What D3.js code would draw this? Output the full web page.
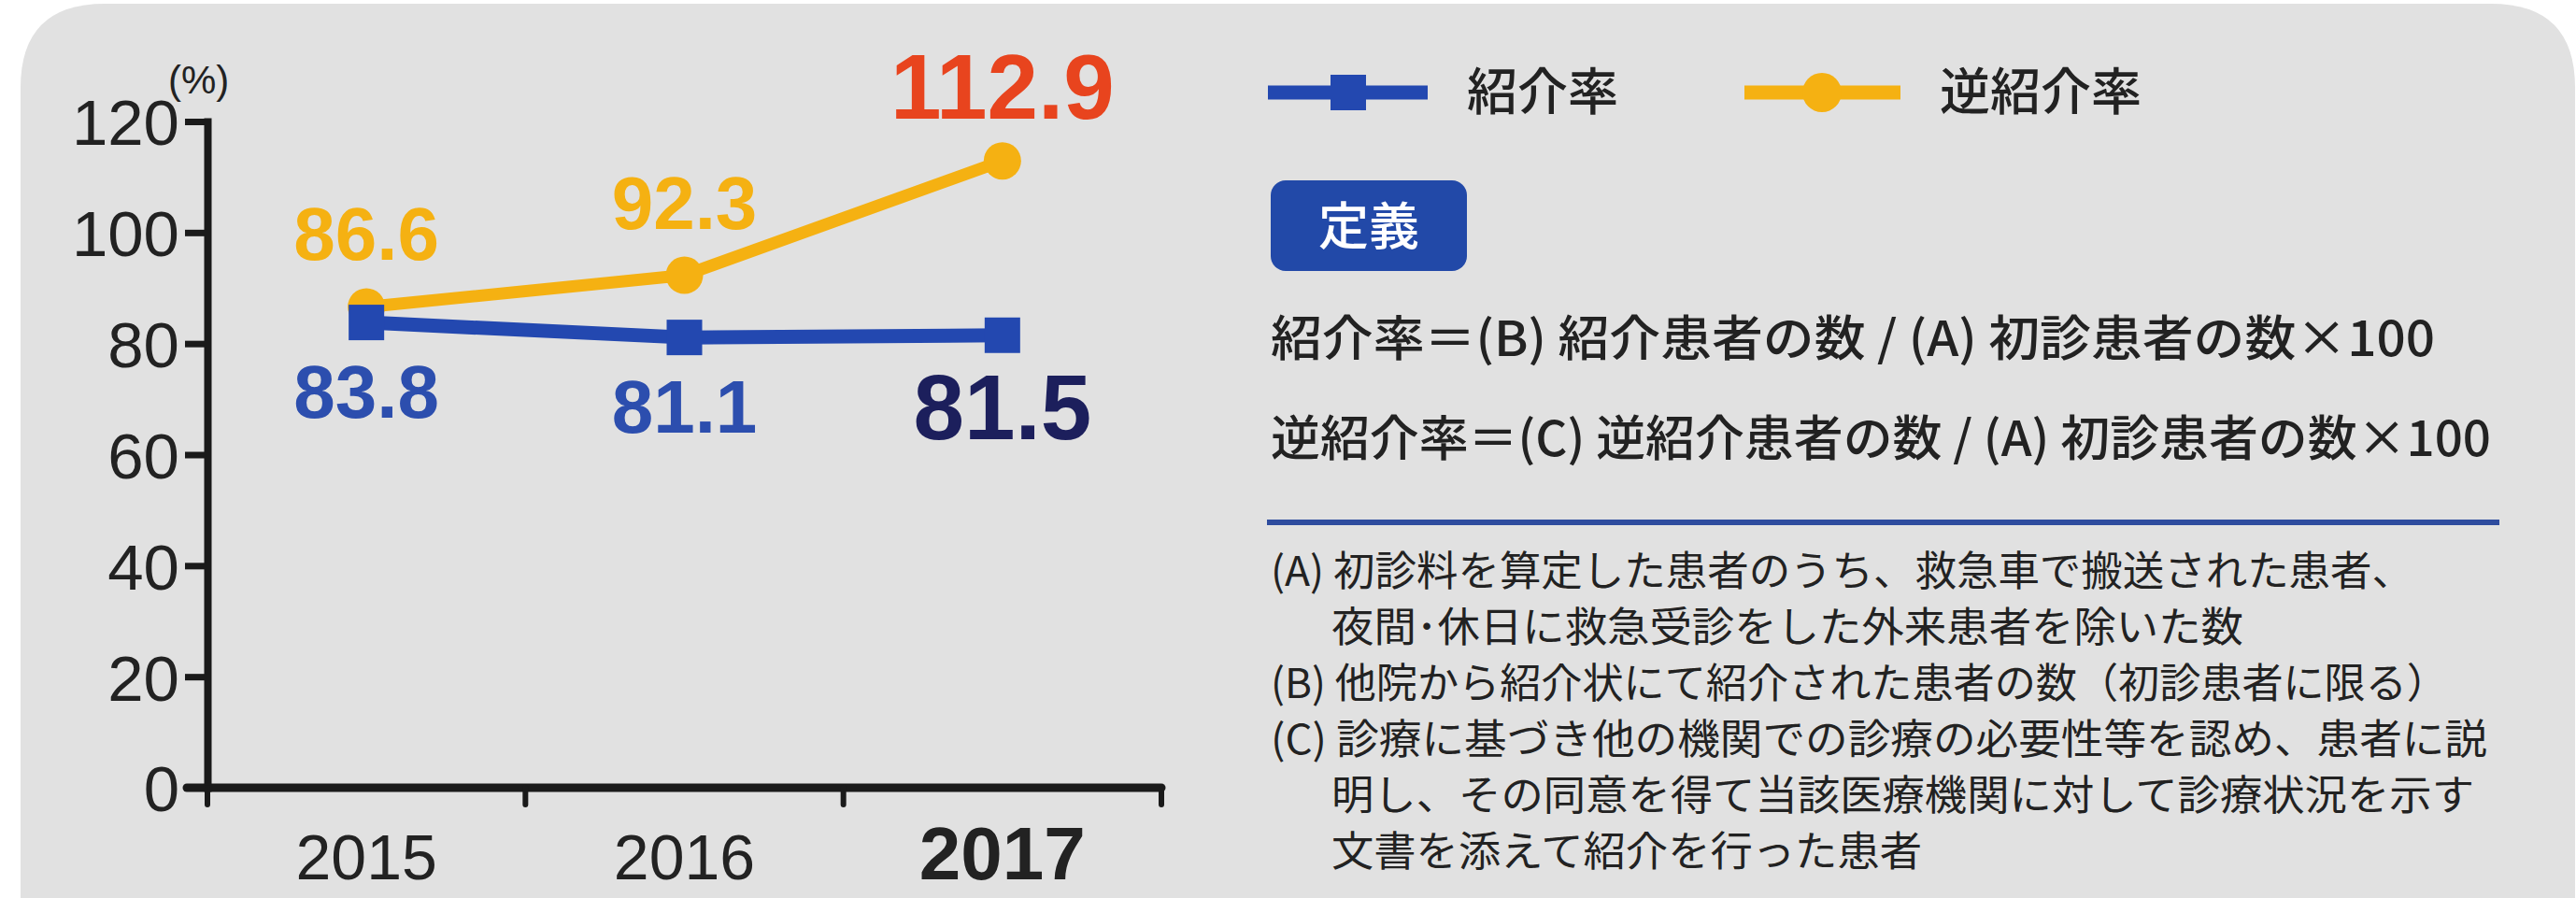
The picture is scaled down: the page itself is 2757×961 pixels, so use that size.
<!DOCTYPE html>
<html><head><meta charset="utf-8">
<script src="https://cdn.jsdelivr.net/npm/d3@7/dist/d3.min.js"></script>
<style>
html,body{margin:0;padding:0;background:#fff;}
svg{display:block;}
</style></head>
<body>
<svg id="chart" width="2757" height="961"></svg>
<script>
// ---- data ----
const years = ["2015", "2016", "2017"];
const referralRate = [83.8, 81.1, 81.5];      // 紹介率
const reverseReferralRate = [86.6, 92.3, 112.9]; // 逆紹介率
const yTicks = [0, 20, 40, 60, 80, 100, 120];
const seriesNames = ["紹介率", "逆紹介率"];
const unitLabel = "(%)";
const badgeLabel = "定義";
const formulaLines = [
  "紹介率＝(B) 紹介患者の数 / (A) 初診患者の数×100",
  "逆紹介率＝(C) 逆紹介患者の数 / (A) 初診患者の数×100"
];
const noteLines = [
  "(A) 初診料を算定した患者のうち、救急車で搬送された患者、",
  "夜間･休日に救急受診をした外来患者を除いた数",
  "(B) 他院から紹介状にて紹介された患者の数（初診患者に限る）",
  "(C) 診療に基づき他の機関での診療の必要性等を認め、患者に説",
  "明し、その同意を得て当該医療機関に対して診療状況を示す",
  "文書を添えて紹介を行った患者"
];

// ---- styles ----
const C = {
  panel: "#e1e1e1", axis: "#1a1a1a", text: "#222",
  blue: "#2348b0", blueLabel: "#2c4eae", navy: "#1c1f5c",
  orange: "#f5b112", red: "#e8441e", badge: "#2249a8", rule: "#2e4c9e"
};
const latin = "'Liberation Sans', Arial, Helvetica, sans-serif";
const cjk = "'Noto Sans CJK JP', 'Noto Sans CJK SC', sans-serif";

const svg = d3.select("#chart");

// panel with rounded top corners
const px0 = 22, py0 = 4, px1 = 2756, py1 = 1100, r = 90;
svg.append("path")
  .attr("d", `M${px0},${py1} L${px0},${py0 + r} Q${px0},${py0} ${px0 + r},${py0} L${px1 - r},${py0} Q${px1},${py0} ${px1},${py0 + r} L${px1},${py1} Z`)
  .attr("fill", C.panel);

// scales
const x = d3.scaleBand().domain(years).range([222, 1243]).padding(0);
const y = d3.scaleLinear().domain([0, 120]).range([843, 130]);
const cx = d => x(d) + x.bandwidth() / 2;

// y axis
const yAxis = svg.append("g").attr("transform", "translate(222,0)")
  .call(d3.axisLeft(y).tickValues(yTicks).tickSize(24).tickSizeOuter(0).tickPadding(6));
yAxis.select(".domain").attr("stroke", C.axis).attr("stroke-width", 8).attr("stroke-linecap", "square");
yAxis.selectAll(".tick line").attr("stroke", C.axis).attr("stroke-width", 7);
yAxis.selectAll(".tick text").attr("font-family", latin).attr("font-size", 69).attr("fill", C.text).attr("dy", "0.36em");

svg.append("text").attr("x", 180).attr("y", 100).attr("font-family", latin).attr("font-size", 42)
  .attr("fill", C.text).text(unitLabel);

// x axis
const xg = svg.append("g");
xg.append("line").attr("x1", 200).attr("x2", x.range()[1]).attr("y1", y(0)).attr("y2", y(0))
  .attr("stroke", C.axis).attr("stroke-width", 9).attr("stroke-linecap", "round");
const bounds = years.map(d => x(d)).concat([x.range()[1]]);
xg.selectAll("line.t").data(bounds).join("line").attr("class", "t")
  .attr("x1", d => d).attr("x2", d => d).attr("y1", y(0)).attr("y2", y(0) + 18)
  .attr("stroke", C.axis).attr("stroke-width", 6).attr("stroke-linecap", "round");
xg.selectAll("text").data(years).join("text")
  .attr("x", d => cx(d)).attr("y", 941).attr("text-anchor", "middle")
  .attr("font-family", latin)
  .attr("font-size", (d, i) => i === years.length - 1 ? 80 : 68)
  .attr("font-weight", (d, i) => i === years.length - 1 ? "bold" : "normal")
  .attr("fill", C.text).text(d => d);

// lines
const line = d3.line().x(d => cx(d.year)).y(d => y(d.v));
const refData = years.map((yr, i) => ({ year: yr, v: referralRate[i] }));
const revData = years.map((yr, i) => ({ year: yr, v: reverseReferralRate[i] }));

svg.append("path").datum(revData).attr("d", line).attr("fill", "none")
  .attr("stroke", C.orange).attr("stroke-width", 13).attr("stroke-linejoin", "round");
svg.selectAll("circle.rev").data(revData).join("circle").attr("class", "rev")
  .attr("cx", d => cx(d.year)).attr("cy", d => y(d.v)).attr("r", 20).attr("fill", C.orange);

svg.append("path").datum(refData).attr("d", line).attr("fill", "none")
  .attr("stroke", C.blue).attr("stroke-width", 15).attr("stroke-linejoin", "round");
const sq = 38;
svg.selectAll("rect.ref").data(refData).join("rect").attr("class", "ref")
  .attr("x", d => cx(d.year) - sq / 2).attr("y", d => y(d.v) - sq / 2)
  .attr("width", sq).attr("height", sq).attr("fill", C.blue);

// value labels
const last = years.length - 1;
svg.selectAll("text.revl").data(revData).join("text").attr("class", "revl")
  .attr("x", d => cx(d.year)).attr("y", (d, i) => y(d.v) - (i === last ? 45 : 50))
  .attr("text-anchor", "middle").attr("font-family", latin).attr("font-weight", "bold")
  .attr("font-size", (d, i) => i === last ? 98 : 80)
  .attr("fill", (d, i) => i === last ? C.red : C.orange)
  .text(d => d.v.toFixed(1));
svg.selectAll("text.refl").data(refData).join("text").attr("class", "refl")
  .attr("x", d => cx(d.year)).attr("y", (d, i) => y(d.v) + (i === last ? 111 : 102))
  .attr("text-anchor", "middle").attr("font-family", latin).attr("font-weight", "bold")
  .attr("font-size", (d, i) => i === last ? 98 : 80)
  .attr("fill", (d, i) => i === last ? C.navy : C.blueLabel)
  .text(d => d.v.toFixed(1));

// legend
const ly = 99;
const lg = svg.append("g");
lg.append("line").attr("x1", 1357).attr("x2", 1528).attr("y1", ly).attr("y2", ly)
  .attr("stroke", C.blue).attr("stroke-width", 15);
lg.append("rect").attr("x", 1443 - 19).attr("y", ly - 19).attr("width", 38).attr("height", 38).attr("fill", C.blue);
lg.append("text").attr("x", 1570).attr("y", ly).attr("dy", "0.36em").attr("font-family", cjk)
  .attr("font-size", 54).attr("font-weight", 500).attr("fill", C.text).text(seriesNames[0]);
lg.append("line").attr("x1", 1867).attr("x2", 2034).attr("y1", ly).attr("y2", ly)
  .attr("stroke", C.orange).attr("stroke-width", 15);
lg.append("circle").attr("cx", 1950).attr("cy", ly).attr("r", 21).attr("fill", C.orange);
lg.append("text").attr("x", 2076).attr("y", ly).attr("dy", "0.36em").attr("font-family", cjk)
  .attr("font-size", 54).attr("font-weight", 500).attr("fill", C.text).text(seriesNames[1]);

// badge
svg.append("rect").attr("x", 1360).attr("y", 193).attr("width", 210).attr("height", 97)
  .attr("rx", 16).attr("fill", C.badge);
svg.append("text").attr("x", 1465).attr("y", 243).attr("dy", "0.36em").attr("text-anchor", "middle")
  .attr("font-family", cjk).attr("font-size", 54).attr("font-weight", 500).attr("fill", "#fff").text(badgeLabel);

// formulas
const formulaY = [362, 469], formulaW = [1246, 1306];
svg.selectAll("text.f").data(formulaLines).join("text").attr("class", "f")
  .attr("x", 1360).attr("y", (d, i) => formulaY[i]).attr("dy", "0.36em")
  .attr("font-family", cjk).attr("font-size", 52).attr("font-weight", 500).attr("fill", C.text)
  .attr("textLength", (d, i) => formulaW[i]).attr("lengthAdjust", "spacingAndGlyphs")
  .text(d => d);

// rule
svg.append("line").attr("x1", 1356).attr("x2", 2675).attr("y1", 559).attr("y2", 559)
  .attr("stroke", C.rule).attr("stroke-width", 6);

// notes
const noteX = [1360, 1425, 1360, 1360, 1425, 1425];
const noteW = [1223, 976, 1260, 1302, 1223, 632];
svg.selectAll("text.n").data(noteLines).join("text").attr("class", "n")
  .attr("x", (d, i) => noteX[i]).attr("y", (d, i) => 611 + i * 60).attr("dy", "0.36em")
  .attr("font-family", cjk).attr("font-size", 44).attr("fill", C.text)
  .attr("textLength", (d, i) => noteW[i]).attr("lengthAdjust", "spacingAndGlyphs")
  .text(d => d);
</script>
</body></html>
